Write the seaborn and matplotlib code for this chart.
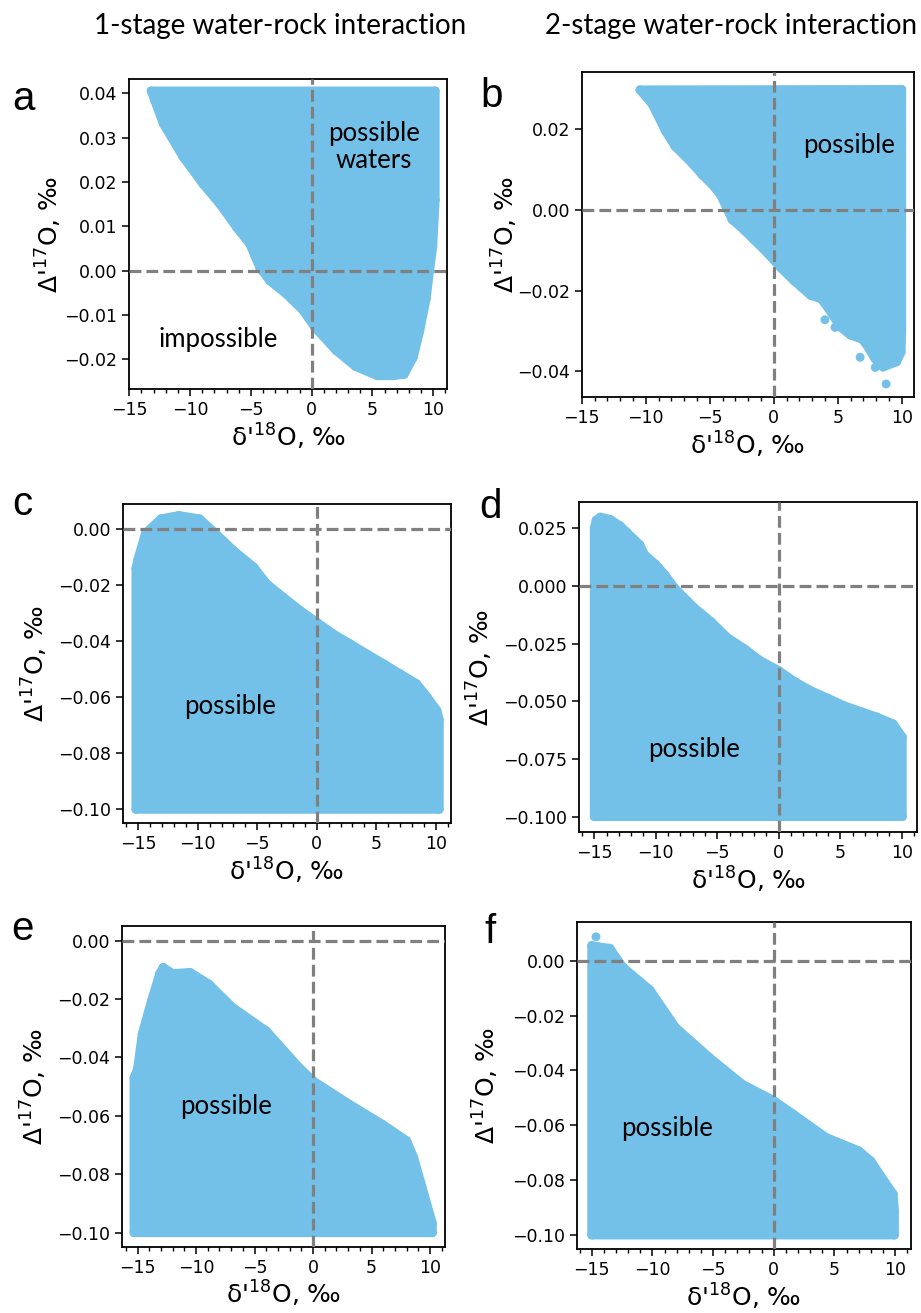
import matplotlib
matplotlib.use("Agg")
import matplotlib.pyplot as plt
import numpy as np
import pandas as pd
import seaborn as sns
from matplotlib.ticker import MultipleLocator

sns.set_style("ticks")
plt.rcParams["font.family"] = ["DejaVu Sans"]
plt.rcParams.update({"text.color": "black", "axes.labelcolor": "black",
                     "xtick.color": "black", "ytick.color": "black"})

FILL = "#73C1E9"

# Outline of each simulated cloud of possible waters (delta'18O, Delta'17O), per mil
a_x = [-13.2, -12.9, -12.2, -10.57, -8.93, -7.55, -6.19, -5.09, -4.26, -3.44, -2.08, -0.7, 0.26,
       2.0, 3.6, 5.4, 6.7, 7.6, 8.35, 8.88, 9.42, 9.7, 9.96, 10.16, 10.16]
a_y = [0.0405, 0.0383, 0.0331, 0.0256, 0.0195, 0.015, 0.0098, 0.006, 0.0006, -0.0023, -0.0053,
       -0.009, -0.0128, -0.018, -0.0216, -0.0237, -0.0237, -0.0234, -0.0196, -0.0137, -0.0063,
       0.0, 0.0054, 0.0159, 0.0405]

b_x = [-10.45, -9.5, -8.45, -7.7, -6.4, -5.6, -4.85, -4.15, -3.25, -2.35, -1.55, -0.5, 0.6, 1.6,
       2.9, 3.7, 4.3, 5.2, 6.0, 6.9, 7.3, 7.9, 8.55, 9.6, 9.95, 10.0, 10.0]
b_y = [0.0297, 0.0262, 0.0195, 0.0157, 0.0116, 0.0087, 0.0064, 0.0037, -0.0024, -0.0049, -0.0074,
       -0.0107, -0.0145, -0.0176, -0.0212, -0.022, -0.0245, -0.029, -0.031, -0.032, -0.0336,
       -0.0368, -0.0389, -0.0376, -0.0352, -0.0295, 0.0298]
b_stray_x = [4.0, 4.79, 6.75, 7.93, 8.78]
b_stray_y = [-0.0272, -0.0291, -0.0365, -0.039, -0.0431]

c_x = [-15.2, -15.2, -15.05, -14.4, -13.1, -11.6, -9.85, -8.55, -7.0, -5.3, -4.2, -2.8, -1.4, 0.0,
       1.4, 2.8, 4.2, 5.6, 7.0, 8.4, 9.3, 10.1, 10.3, 10.3]
c_y = [-0.1, -0.014, -0.011, -0.0015, 0.0037, 0.0049, 0.0037, -0.0013, -0.0076, -0.0135, -0.0195,
       -0.0243, -0.029, -0.0332, -0.0374, -0.0409, -0.0445, -0.048, -0.0516, -0.0552, -0.06,
       -0.0647, -0.068, -0.1]

d_x = [-15.0, -15.0, -14.85, -14.5, -13.7, -12.9, -12.4, -11.3, -10.9, -10.0, -9.25, -8.5, -6.9,
       -5.5, -4.2, -2.8, -1.5, 0.0, 1.3, 2.6, 4.0, 5.3, 6.7, 8.0, 9.3, 10.05, 10.05]
d_y = [-0.1, 0.025, 0.0285, 0.0298, 0.0288, 0.026, 0.0235, 0.0178, 0.0135, 0.0093, 0.0048,
       -0.0007, -0.0093, -0.0155, -0.0223, -0.0272, -0.0324, -0.0367, -0.0415, -0.0454, -0.0487,
       -0.0519, -0.0545, -0.0569, -0.0598, -0.0655, -0.1]

e_x = [-15.3, -15.3, -15.0, -14.6, -13.8, -13.1, -12.8, -12.0, -10.5, -8.9, -6.9, -4.0, -1.2, 0.0,
       3.1, 5.9, 8.0, 8.6, 10.2, 10.2]
e_y = [-0.1, -0.047, -0.044, -0.032, -0.0205, -0.0113, -0.0092, -0.0113, -0.0109, -0.0149,
       -0.0228, -0.0309, -0.0434, -0.048, -0.056, -0.0628, -0.0685, -0.0742, -0.0968, -0.1]

f_x = [-15.0, -15.0, -14.4, -13.5, -12.9, -12.4, -11.0, -10.2, -8.1, -5.3, -2.6, 0.0, 1.6, 4.3,
       7.0, 8.0, 9.1, 9.85, 9.95, 9.95]
f_y = [-0.1, 0.0055, 0.005, 0.0045, 0.0005, -0.0025, -0.0077, -0.0107, -0.0243, -0.0353, -0.045,
       -0.051, -0.0559, -0.0644, -0.0693, -0.073, -0.0803, -0.0851, -0.0912, -0.1]
f_stray_x = [-14.65]
f_stray_y = [0.0087]

panel_letters = ["a", "b", "c", "d", "e", "f"]
column_titles = ["1-stage water-rock interaction", "2-stage water-rock interaction"]
x_ticks = [-15, -10, -5, 0, 5, 10]
y_ticks = {
    "a": [-0.02, -0.01, 0.0, 0.01, 0.02, 0.03, 0.04],
    "b": [-0.04, -0.02, 0.0, 0.02],
    "c": [-0.10, -0.08, -0.06, -0.04, -0.02, 0.0],
    "d": [-0.100, -0.075, -0.050, -0.025, 0.000, 0.025],
    "e": [-0.10, -0.08, -0.06, -0.04, -0.02, 0.0],
    "f": [-0.10, -0.08, -0.06, -0.04, -0.02, 0.0],
}
y_fmt = {"a": "{:.2f}", "b": "{:.2f}", "c": "{:.2f}", "d": "{:.3f}", "e": "{:.2f}", "f": "{:.2f}"}
notes = {
    "a": [("possible\nwaters", 5.1, 0.0278), ("impossible", -7.7, -0.0156)],
    "b": [("possible", 5.9, 0.016)],
    "c": [("possible", -7.3, -0.0634)],
    "d": [("possible", -6.9, -0.0711)],
    "e": [("possible", -7.4, -0.0568)],
    "f": [("possible", -8.8, -0.0611)],
}

outlines = {
    "a": (a_x, a_y, [], []),
    "b": (b_x, b_y, b_stray_x, b_stray_y),
    "c": (c_x, c_y, [], []),
    "d": (d_x, d_y, [], []),
    "e": (e_x, e_y, [], []),
    "f": (f_x, f_y, f_stray_x, f_stray_y),
}

W, H = 921, 1313
# axes boxes in pixels: left, top, right, bottom
boxes = {
    "a": (129.3, 79, 447, 389),
    "b": (581.7, 71.7, 914, 397.3),
    "c": (123.3, 504.3, 450.7, 823.3),
    "d": (579.3, 501.7, 917.3, 832.3),
    "e": (122.3, 926, 445, 1246.7),
    "f": (576.7, 921.7, 910.7, 1249),
}
limits = {
    "a": ((-15.0, 11.13), (-0.0267, 0.0432)),
    "b": ((-15.0, 10.96), (-0.0464, 0.0342)),
    "c": ((-16.26, 11.26), (-0.105, 0.0089)),
    "d": ((-16.22, 11.27), (-0.1068, 0.0365)),
    "e": ((-16.3, 11.28), (-0.1048, 0.005)),
    "f": ((-16.24, 11.29), (-0.1051, 0.0142)),
}
ylabel_pad = {"a": 0.0, "b": -2.5, "c": 6.0, "d": 6.0, "e": 6.0, "f": 7.5}
letter_pos = {"a": (23, 110), "b": (492, 107), "c": (22, 515),
              "d": (490, 518), "e": (22, 940), "f": (490, 943)}

fig = plt.figure(figsize=(W / 100, H / 100), dpi=100)

DOT_PT = 6.4  # marker diameter in points

for key in panel_letters:
    l, t, r, b = boxes[key]
    ax = fig.add_axes([l / W, 1 - b / H, (r - l) / W, (b - t) / H])
    xs, ys, sx, sy = outlines[key]
    ax.fill(xs, ys, facecolor=FILL, edgecolor=FILL, linewidth=DOT_PT,
            joinstyle="round", zorder=1)
    pts = pd.DataFrame({"d18O": list(xs) + list(sx), "D17O": list(ys) + list(sy)})
    sns.scatterplot(data=pts, x="d18O", y="D17O", color=FILL, s=DOT_PT ** 2,
                    linewidth=0, edgecolor="none", ax=ax, zorder=2)
    ax.axhline(0, color="#808080", ls="--", lw=2.3, zorder=3)
    ax.axvline(0, color="#808080", ls="--", lw=2.3, zorder=3)
    (x0, x1), (y0, y1) = limits[key]
    ax.set_xlim(x0, x1)
    ax.set_ylim(y0, y1)
    ax.set_xticks(x_ticks)
    ax.xaxis.set_minor_locator(MultipleLocator(1))
    ax.set_yticks(y_ticks[key])
    ax.set_yticklabels([y_fmt[key].format(v).replace("-", "\u2212") for v in y_ticks[key]])
    ax.tick_params(axis="both", which="major", labelsize=12.5, length=5, width=1.1, direction="out")
    ax.tick_params(axis="x", which="minor", length=3, width=1.0)
    for sp in ax.spines.values():
        sp.set_visible(True)
        sp.set_linewidth(1.3)
        sp.set_color("black")
    ax.set_xlabel("δ'$^{18}$O, ‰", fontsize=18, labelpad=2)
    ax.set_ylabel("Δ'$^{17}$O, ‰", fontsize=18, labelpad=ylabel_pad[key])
    for txt, tx, ty in notes[key]:
        ax.text(tx, ty, txt, ha="center", va="center", fontsize=18.5,
                family=["Lato", "DejaVu Sans"], linespacing=1.1, zorder=4)
    lx, ly = letter_pos[key]
    fig.text(lx / W, 1 - ly / H, key, ha="center", va="baseline", fontsize=29,
             family=["Liberation Sans", "DejaVu Sans"])

fig.text(280 / W, 1 - 34 / H, column_titles[0], ha="center", va="baseline",
         fontsize=20, family=["Lato", "DejaVu Sans"])
fig.text(731 / W, 1 - 34 / H, column_titles[1], ha="center", va="baseline",
         fontsize=20, family=["Lato", "DejaVu Sans"])

fig.savefig("out.png", dpi=100)
